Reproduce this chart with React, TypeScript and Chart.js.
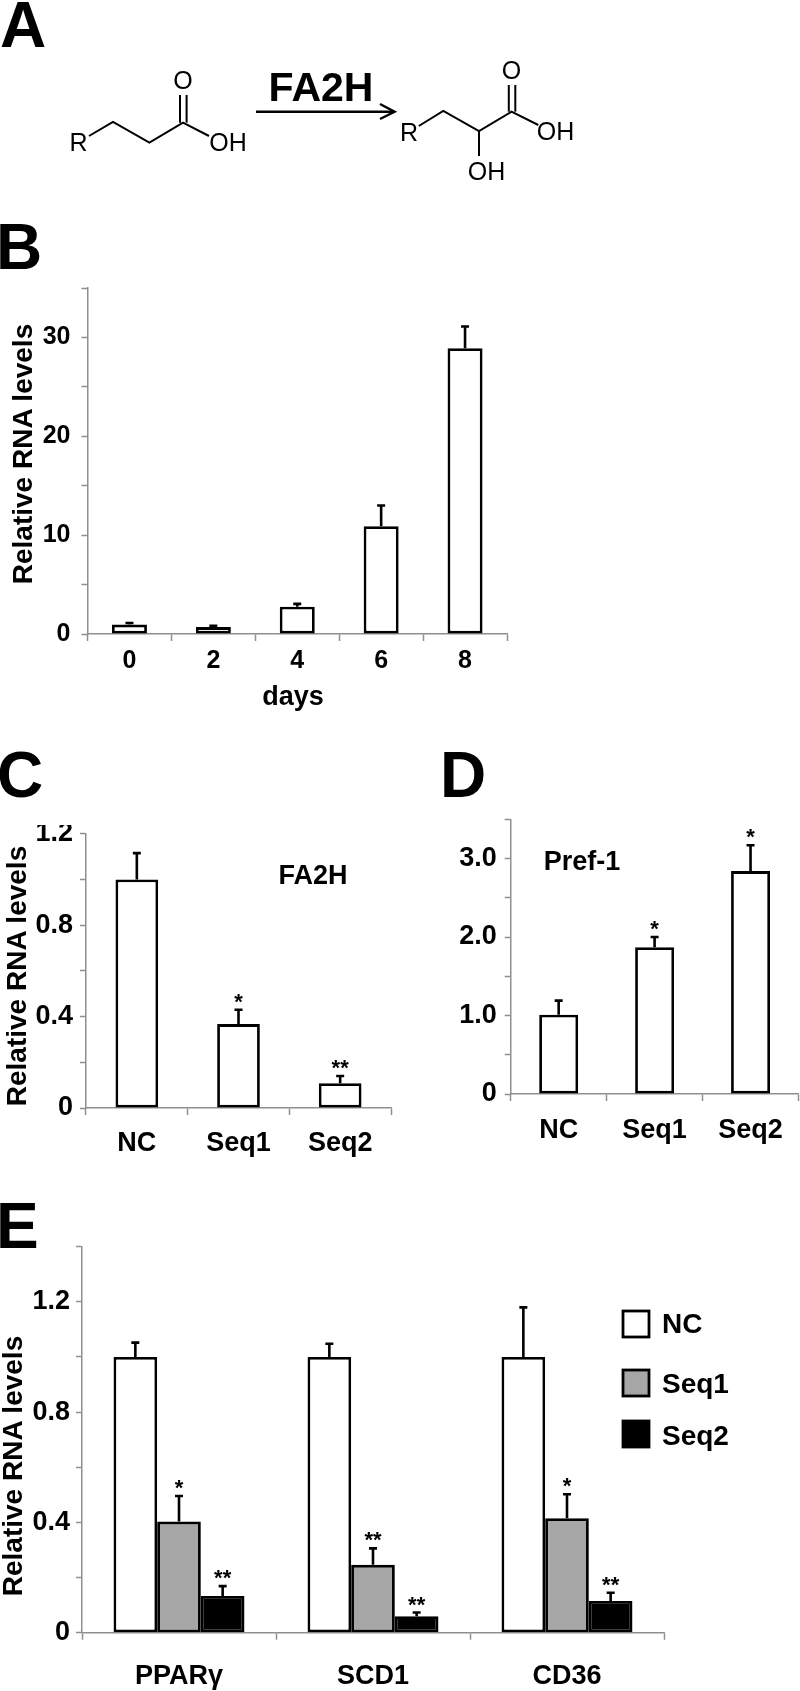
import React, { useEffect, useRef } from "react";
import { Chart, registerables } from "chart.js";

Chart.register(...registerables);

const FONT = '"Liberation Sans", Arial, sans-serif';
const AXIS = "#8f8f8f";

// Panel B
const daysLabels = ["0", "2", "4", "6", "8"];
const daysValues = [0.95, 0.7, 2.75, 10.9, 28.9];
const daysErrTop = [1.12, 0.82, 3.05, 13.0, 31.1];
const daysTickLabels = [0, 10, 20, 30];

// Panel C
const fa2hLabels = ["NC", "Seq1", "Seq2"];
const fa2hValues = [1.0, 0.367, 0.108];
const fa2hErrTop = [1.115, 0.43, 0.14];
const fa2hStars = ["", "*", "**"];
const fa2hTickLabels = [0, 0.4, 0.8, 1.2];

// Panel D
const prefLabels = ["NC", "Seq1", "Seq2"];
const prefValues = [1.01, 1.87, 2.84];
const prefErrTop = [1.19, 2.0, 3.17];
const prefStars = ["", "*", "*"];
const prefTickLabels = [0, 1, 2, 3];

// Panel E
const geneLabels = ["PPARγ", "SCD1", "CD36"];
const seriesNames = ["NC", "Seq1", "Seq2"];
const ncValues = [1.0, 1.0, 1.0];
const seq1Values = [0.403, 0.246, 0.415];
const seq2Values = [0.133, 0.06, 0.115];
const ncErrTop = [1.052, 1.048, 1.18];
const seq1ErrTop = [0.496, 0.306, 0.502];
const seq2ErrTop = [0.169, 0.073, 0.145];
const ncStars = ["", "", ""];
const seq1Stars = ["*", "**", "*"];
const seq2Stars = ["**", "**", "**"];
const geneTickLabels = [0, 0.4, 0.8, 1.2];

const errorPlugin = {
  id: "errorMarks",
  afterDatasetsDraw(chart: any, _a: any, opts: any) {
    const { ctx } = chart;
    const y = chart.scales.y;
    chart.data.datasets.forEach((_d: any, di: number) => {
      const meta = chart.getDatasetMeta(di);
      meta.data.forEach((bar: any, i: number) => {
        const top = y.getPixelForValue(opts.tops[di][i]);
        const base = y.getPixelForValue(chart.data.datasets[di].data[i]);
        ctx.save();
        ctx.strokeStyle = "#000";
        ctx.lineWidth = 2.6;
        ctx.beginPath();
        ctx.moveTo(bar.x, base);
        ctx.lineTo(bar.x, top);
        ctx.moveTo(bar.x - 4, top);
        ctx.lineTo(bar.x + 4, top);
        ctx.stroke();
        const s = opts.stars ? opts.stars[di][i] : "";
        if (s) {
          ctx.fillStyle = "#000";
          ctx.font = `bold 22px ${FONT}`;
          ctx.textAlign = "center";
          ctx.textBaseline = "alphabetic";
          ctx.fillText(s, bar.x, top - 1);
        }
        ctx.restore();
      });
    });
  },
};

type PanelProps = {
  left: number; right: number; top: number; bottom: number;
  axisX: number; y0: number; yTop: number;
  labels: string[]; datasets: any[];
  tops: number[][]; stars?: string[][];
  max: number; step: number; tickLabels: number[]; tickDigits: number;
  fontSize: number; xPad: number; yPad: number; axisRight: number;
};

const clearPadding = (s: any) => {
  s.paddingTop = 0;
  s.paddingBottom = 0;
  s.paddingLeft = 0;
  s.paddingRight = 0;
};

function Panel(p: PanelProps) {
  const ref = useRef<HTMLCanvasElement | null>(null);
  useEffect(() => {
    const font = { family: FONT, weight: "bold" as const, size: p.fontSize };
    const chart = new Chart(ref.current as HTMLCanvasElement, {
      type: "bar",
      data: { labels: p.labels, datasets: p.datasets },
      plugins: [errorPlugin],
      options: {
        animation: false,
        responsive: false,
        maintainAspectRatio: false,
        layout: {
          autoPadding: false,
          padding: {
            top: p.yTop - p.top,
            left: 0,
            right: p.right - p.axisRight,
            bottom: 0,
          },
        },
        plugins: {
          legend: { display: false },
          tooltip: { enabled: false },
          errorMarks: { tops: p.tops, stars: p.stars },
        } as any,
        scales: {
          x: {
            afterFit: (s: any) => { s.height = p.bottom - p.y0; clearPadding(s); },
            grid: { drawOnChartArea: false, tickColor: AXIS, tickWidth: 1.5, tickLength: 7, offset: true },
            border: { color: AXIS, width: 1.5 },
            ticks: { color: "#000", font, padding: p.xPad, maxRotation: 0, autoSkip: false },
          },
          y: {
            min: 0,
            max: p.max,
            afterFit: (s: any) => { s.width = p.axisX - p.left; clearPadding(s); },
            grid: { drawOnChartArea: false, tickColor: AXIS, tickWidth: 1.5, tickLength: 6 },
            border: { color: AXIS, width: 1.5 },
            ticks: {
              stepSize: p.step,
              autoSkip: false,
              color: "#000",
              font,
              padding: p.yPad,
              callback: (v: any) => {
                const n = Number(v);
                const hit = p.tickLabels.some((t) => Math.abs(t - n) < 1e-6);
                if (!hit) return "";
                if (Math.abs(n) < 1e-6) return "0";
                return n.toFixed(p.tickDigits);
              },
            },
          },
        },
      },
    } as any);
    return () => chart.destroy();
  }, []);
  return (
    <canvas
      ref={ref}
      width={p.right - p.left}
      height={p.bottom - p.top}
      style={{ position: "absolute", left: p.left, top: p.top, display: "block" }}
    />
  );
}

const single = (values: number[], barPct: number) => [
  {
    data: values,
    backgroundColor: "#fff",
    borderColor: "#000",
    borderWidth: 2.8,
    borderSkipped: false,
    categoryPercentage: 1,
    barPercentage: barPct,
    clip: false,
  },
];

const grouped = (values: number[], color: string) => ({
  data: values,
  backgroundColor: color,
  borderColor: "#000",
  borderWidth: 2.8,
  borderSkipped: false,
  categoryPercentage: 0.675,
  barPercentage: 1,
  clip: false,
});

const panelLetter = (t: string, x: number, y: number) => (
  <text x={x} y={y} fontSize={64} fontWeight="bold">{t}</text>
);

const yTitle = (x: number, y: number) => (
  <text transform={`translate(${x} ${y}) rotate(-90)`} textAnchor="middle" fontSize={28} fontWeight="bold">
    Relative RNA levels
  </text>
);

function Molecule() {
  const s = { fill: "none", stroke: "#000", strokeWidth: 2 };
  const chem = { fontSize: 25, fontWeight: "normal" as const, textAnchor: "middle" as const };
  return (
    <g>
      <polyline {...s} points="89,136 113,122 149.4,142.7 183,122.7 209,136" />
      <line {...s} x1={180} y1={95} x2={180} y2={122.7} />
      <line {...s} x1={186.6} y1={95} x2={186.6} y2={122.7} />
      <text {...chem} x={78.5} y={151}>R</text>
      <text {...chem} x={183} y={89}>O</text>
      <text {...chem} x={228} y={151}>OH</text>

      <line x1={256} y1={111.7} x2={394} y2={111.7} stroke="#000" strokeWidth={2.4} />
      <polyline {...s} strokeWidth={2.4} points="380,104 394.6,111.7 380,119" />
      <text x={321} y={101} fontSize={41} fontWeight="bold" textAnchor="middle">FA2H</text>

      <polyline {...s} points="418.8,126 443.3,111 479,131 511.5,111.7 538.3,125" />
      <line {...s} x1={508.8} y1={85} x2={508.8} y2={111.7} />
      <line {...s} x1={515.3} y1={85} x2={515.3} y2={111.7} />
      <line {...s} x1={479} y1={131} x2={479} y2={156} />
      <text {...chem} x={409} y={141}>R</text>
      <text {...chem} x={511.5} y={79}>O</text>
      <text {...chem} x={555.6} y={140}>OH</text>
      <text {...chem} x={486.6} y={180}>OH</text>
    </g>
  );
}

const legendColors = ["#fff", "#a6a6a6", "#000"];
const legendBoxY = [1311, 1370, 1421];
const legendTextY = [1333, 1393, 1445];

export default function App() {
  return (
    <div style={{ position: "absolute", left: 0, top: 0, width: 800, height: 1691, background: "#fff", overflow: "hidden" }}>
      <Panel
        left={0} right={515} top={280} bottom={690}
        axisX={87.5} axisRight={507} yTop={288} y0={634}
        labels={daysLabels} datasets={single(daysValues, 0.417)}
        tops={[daysErrTop]} max={35} step={5}
        tickLabels={daysTickLabels} tickDigits={0}
        fontSize={25} xPad={5} yPad={11}
      />
      <Panel
        left={0} right={400} top={825} bottom={1170}
        axisX={86} axisRight={391} yTop={833.7} y0={1108}
        labels={fa2hLabels} datasets={single(fa2hValues, 0.42)}
        tops={[fa2hErrTop]} stars={[fa2hStars]} max={1.2} step={0.2}
        tickLabels={fa2hTickLabels} tickDigits={1}
        fontSize={27} xPad={12} yPad={7}
      />
      <Panel
        left={440} right={800} top={812} bottom={1160}
        axisX={510.7} axisRight={798.5} yTop={819.3} y0={1094}
        labels={prefLabels} datasets={single(prefValues, 0.406)}
        tops={[prefErrTop]} stars={[prefStars]} max={3.5} step={0.5}
        tickLabels={prefTickLabels} tickDigits={1}
        fontSize={27} xPad={13} yPad={8}
      />
      <Panel
        left={0} right={672} top={1240} bottom={1691}
        axisX={82} axisRight={664} yTop={1246.7} y0={1632.7}
        labels={geneLabels}
        datasets={[grouped(ncValues, "#fff"), grouped(seq1Values, "#a6a6a6"), grouped(seq2Values, "#000")]}
        tops={[ncErrTop, seq1ErrTop, seq2ErrTop]}
        stars={[ncStars, seq1Stars, seq2Stars]}
        max={1.4} step={0.2}
        tickLabels={geneTickLabels} tickDigits={1}
        fontSize={27} xPad={21} yPad={6}
      />
      <svg
        width={800}
        height={1691}
        style={{ position: "absolute", left: 0, top: 0, pointerEvents: "none" }}
        fontFamily={FONT}
        fill="#000"
      >
        {panelLetter("A", 0, 47)}
        {panelLetter("B", -4, 269)}
        {panelLetter("C", -3, 797)}
        {panelLetter("D", 440, 797)}
        {panelLetter("E", -4, 1248)}
        <Molecule />
        {yTitle(32, 454)}
        {yTitle(26, 976)}
        {yTitle(22, 1466)}
        <text x={293} y={705} fontSize={27} fontWeight="bold" textAnchor="middle">days</text>
        <text x={313} y={884} fontSize={27} fontWeight="bold" textAnchor="middle">FA2H</text>
        <text x={582} y={870} fontSize={27} fontWeight="bold" textAnchor="middle">Pref-1</text>
        {seriesNames.map((n, i) => (
          <g key={n}>
            <rect x={623} y={legendBoxY[i]} width={26} height={26} fill={legendColors[i]} stroke="#000" strokeWidth={2.8} />
            <text x={662} y={legendTextY[i]} fontSize={28} fontWeight="bold">{n}</text>
          </g>
        ))}
      </svg>
    </div>
  );
}
